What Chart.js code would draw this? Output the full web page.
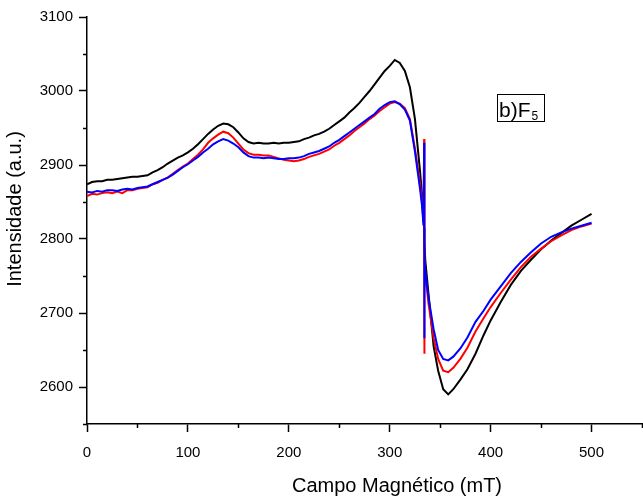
<!DOCTYPE html>
<html>
<head>
<meta charset="utf-8">
<script src="https://cdn.jsdelivr.net/npm/chart.js@4.4.1/dist/chart.umd.min.js"></script>
<style>
  html, body { margin: 0; padding: 0; background: #fff; }
  canvas { display: block; }
</style>
</head>
<body>
<canvas id="eprChart" width="643" height="496"></canvas>
<script>
// campo magnético (mT) shared by the three spectra
const field = [
    0, 5, 10, 15, 20, 25, 30, 35, 40, 45, 50, 55, 60, 65, 70, 75, 80, 85, 90, 95,
    100, 105, 110, 115, 120, 125, 130, 135, 140, 145, 150, 155, 160, 165, 170, 175, 180, 185, 190, 195,
    200, 205, 210, 215, 220, 225, 230, 235, 240, 245, 250, 255, 260, 265, 270, 275, 280, 285, 290, 295,
    300, 305, 310, 315, 320, 325, 330, 332, 333.5, 334.1, 334.3, 334.5, 335.3, 338.5, 343.5, 348, 353, 358, 363, 370,
    377, 385, 393, 400, 410, 420, 430, 440, 450, 460, 470, 480, 490, 500
];

const black = [
    2874, 2877, 2878, 2878, 2880, 2880, 2881, 2882, 2883, 2884, 2884, 2885, 2886, 2890, 2893, 2897, 2902, 2906, 2910, 2913,
    2917, 2922, 2928, 2935, 2942, 2948, 2953, 2956, 2955, 2951, 2944, 2936, 2931, 2929, 2930, 2929, 2929, 2930, 2929, 2930,
    2930, 2931, 2932, 2935, 2937, 2940, 2942, 2945, 2949, 2954, 2959, 2964, 2971, 2977, 2984, 2992, 3000, 3009, 3018, 3027,
    3034, 3042, 3038, 3027, 3005, 2962, 2892, 2860, 2830, 2815, 2805, 2795, 2770, 2725, 2655, 2622, 2597, 2590, 2597, 2610,
    2624, 2645, 2670, 2690, 2715, 2738, 2757, 2772, 2786, 2798, 2808, 2818, 2826, 2834
];

const red = [
    2858, 2861, 2860, 2862, 2863, 2862, 2864, 2862, 2866, 2866, 2868, 2869, 2870, 2874, 2876, 2880, 2883, 2888, 2893, 2898,
    2902, 2908, 2914, 2921, 2930, 2936, 2941, 2945, 2943, 2937, 2929, 2921, 2916, 2914, 2914, 2913, 2913, 2911, 2909, 2907,
    2906, 2905, 2906, 2908, 2911, 2913, 2915, 2918, 2921, 2926, 2930, 2935, 2940, 2946, 2951, 2956, 2962, 2967, 2973, 2978,
    2983, 2985, 2983, 2977, 2962, 2922, 2875, 2850, 2822, 2935, 2645, 2775, 2752, 2712, 2666, 2638, 2622, 2620, 2626, 2638,
    2653, 2675, 2693, 2708, 2727, 2745, 2762, 2776, 2787, 2797, 2805, 2812, 2817, 2821
];

const blue = [
    2864, 2863, 2865, 2864, 2866, 2866, 2865, 2867, 2868, 2867, 2869, 2870, 2871, 2874, 2877, 2880, 2883, 2887, 2892, 2897,
    2901, 2906, 2911, 2917, 2922, 2928, 2932, 2935, 2933, 2929, 2924, 2917, 2912, 2910, 2910, 2909, 2910, 2909, 2908, 2908,
    2909, 2909, 2910, 2912, 2915, 2917, 2919, 2922, 2925, 2930, 2934, 2939, 2944, 2949, 2954, 2959, 2964, 2969, 2976, 2981,
    2985, 2986, 2982, 2975, 2960, 2918, 2868, 2845, 2818, 2930, 2666, 2770, 2756, 2720, 2678, 2650, 2638, 2636, 2641, 2652,
    2667, 2688, 2703, 2718, 2736, 2754, 2769, 2782, 2794, 2803, 2809, 2814, 2818, 2822
];

const xTicks = [0, 50, 100, 150, 200, 250, 300, 350, 400, 450, 500, 550];
const yTicks = [2550, 2600, 2650, 2700, 2750, 2800, 2850, 2900, 2950, 3000, 3050, 3100];

const FONT = "'Liberation Sans', Arial, sans-serif";

const toPoints = (ys) => field.map((x, i) => ({ x: x, y: ys[i] }));

const isMajor = (v) => v % 100 === 0;

// short ticks for the 50-steps, axis titles and the b)F5 box
const extras = {
    id: 'extras',
    afterDraw(chart) {
        const ctx = chart.ctx;
        const xs = chart.scales.x;
        const ys = chart.scales.y;
        ctx.save();
        ctx.strokeStyle = '#000';
        ctx.lineWidth = 1.5;
        ctx.beginPath();
        xTicks.filter(v => !isMajor(v)).forEach(v => {
            const px = Math.round(xs.getPixelForValue(v)) + 0.5;
            ctx.moveTo(px, ys.bottom);
            ctx.lineTo(px, ys.bottom + 4);
        });
        yTicks.filter(v => !isMajor(v)).forEach(v => {
            const py = Math.round(ys.getPixelForValue(v)) + 0.5;
            ctx.moveTo(xs.left, py);
            ctx.lineTo(xs.left - 4, py);
        });
        ctx.stroke();

        ctx.fillStyle = '#000';
        ctx.font = '20px ' + FONT;
        ctx.textAlign = 'center';
        ctx.textBaseline = 'middle';
        ctx.fillText('Campo Magnético (mT)', 397, 486);

        ctx.save();
        ctx.translate(15, 209);
        ctx.rotate(-Math.PI / 2);
        ctx.fillText('Intensidade (a.u.)', 0, 0);
        ctx.restore();

        // label box
        ctx.lineWidth = 1;
        ctx.strokeRect(497.5, 94.5, 47, 27);
        ctx.textAlign = 'left';
        ctx.textBaseline = 'alphabetic';
        ctx.font = '21px ' + FONT;
        ctx.fillText('b)F', 499, 117);
        const w = ctx.measureText('b)F').width;
        ctx.font = '12px ' + FONT;
        ctx.fillText('5', 499 + w + 1, 120);
        ctx.restore();
    }
};

const axisCommon = {
    type: 'linear',
    border: { display: true, color: '#000', width: 1.5 },
    grid: {
        drawOnChartArea: false,
        drawTicks: true,
        tickLength: 8,
        tickWidth: 1.5,
        tickColor: (c) => (c.tick && isMajor(c.tick.value)) ? '#000' : 'rgba(0,0,0,0)'
    },
    ticks: {
        color: '#000',
        font: { family: FONT, size: 15 },
        callback: (v) => isMajor(v) ? String(v) : ''
    }
};

const chart = new Chart(document.getElementById('eprChart'), {
    type: 'line',
    data: {
        datasets: [
            { label: 'blue', data: toPoints(blue), borderColor: '#0000ff' },
            { label: 'red', data: toPoints(red), borderColor: '#ff0000' },
            { label: 'black', data: toPoints(black), borderColor: '#000000' }
        ].map(d => Object.assign(d, { borderWidth: 2, pointRadius: 0, tension: 0, fill: false }))
    },
    options: {
        responsive: false,
        animation: false,
        devicePixelRatio: 1,
        layout: { padding: { left: 0, right: 0, top: 17, bottom: 0 } },
        plugins: { legend: { display: false }, tooltip: { enabled: false } },
        scales: {
            x: Object.assign({}, axisCommon, {
                min: 0,
                max: 551,
                afterBuildTicks: (s) => { s.ticks = xTicks.map(v => ({ value: v })); },
                afterFit: (s) => { s.height = 72; s.paddingLeft = 0; s.paddingRight = 0; },
                ticks: Object.assign({}, axisCommon.ticks, { padding: 12, maxRotation: 0, autoSkip: false })
            }),
            y: Object.assign({}, axisCommon, {
                min: 2550,
                max: 3100,
                afterBuildTicks: (s) => { s.ticks = yTicks.map(v => ({ value: v })); },
                afterFit: (s) => { s.width = 87; },
                ticks: Object.assign({}, axisCommon.ticks, { padding: 6, autoSkip: false })
            })
        }
    },
    plugins: [extras]
});
</script>
</body>
</html>
